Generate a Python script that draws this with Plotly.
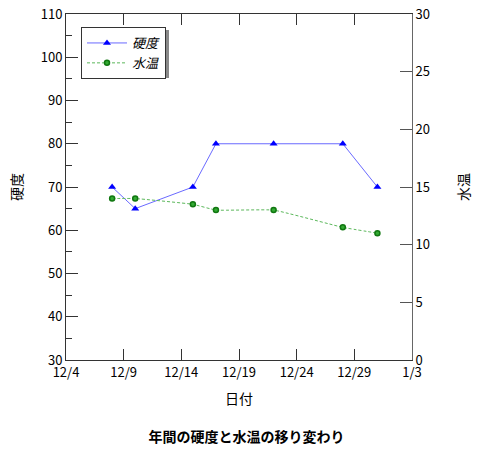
import plotly.graph_objects as go

# 測定日と値
dates = ["2023-12-08", "2023-12-10", "2023-12-15", "2023-12-17",
         "2023-12-22", "2023-12-28", "2023-12-31"]
hardness = [70, 65, 70, 80, 80, 80, 70]
water_temp = [14, 14, 13.5, 13, 13, 11.5, 11]

FONT = "Noto Sans CJK JP"

fig = go.Figure()

fig.add_trace(go.Scatter(
    x=dates, y=hardness, name="硬度", mode="lines+markers",
    line=dict(color="#6a6aff", width=1),
    marker=dict(symbol="triangle-up", size=7, color="#0000ff"),
))
fig.add_trace(go.Scatter(
    x=dates, y=water_temp, name="水温", mode="lines+markers", yaxis="y2",
    line=dict(color="#5cb85c", width=1, dash="3px,2px", shape="spline", smoothing=0.3),
    marker=dict(symbol="circle", size=5, color="#33aa33",
                line=dict(color="#117711", width=1.5)),
))

# 凡例の影
fig.add_shape(type="rect", xref="paper", yref="paper",
              x0=(84 - 66) / 346, x1=(169 - 66) / 346,
              y0=(360 - 78) / 346, y1=(360 - 30) / 346,
              fillcolor="#888888", line_width=0, layer="above")

fig.update_layout(
    width=493, height=471,
    margin=dict(l=66, r=81, t=14, b=111),
    paper_bgcolor="white", plot_bgcolor="white",
    font=dict(family=FONT, size=13, color="black"),
    showlegend=True,
    legend=dict(x=(81 - 66) / 346, y=(360 - 27) / 346, xanchor="left", yanchor="top",
                bgcolor="white", bordercolor="#333333", borderwidth=1,
                font=dict(family=FONT, size=13, style="italic"),
                tracegroupgap=0, itemwidth=40),
    title=dict(text="<b>年間の硬度と水温の移り変わり</b>", x=0.5, xanchor="center",
               yref="container", y=1 - 437 / 471, yanchor="middle",
               font=dict(family=FONT, size=14)),
    xaxis=dict(
        type="date", range=["2023-12-04", "2024-01-03"],
        tick0="2023-12-04", dtick=5 * 86400000, tickformat="%-m/%-d",
        ticks="inside", ticklen=11, tickcolor="#333333", ticklabeloverflow="allow",
        showline=True, linecolor="#333333", linewidth=1, mirror="ticks",
        showgrid=False, zeroline=False, automargin=False,
        title=dict(text="日付", standoff=14, font=dict(size=14)),
    ),
    yaxis=dict(
        range=[30, 110], dtick=10,
        ticks="inside", ticklen=12, tickcolor="#333333", ticklabeloverflow="allow",
        minor=dict(dtick=5, ticks="inside", ticklen=6, tickcolor="#333333"),
        showline=True, linecolor="#333333", linewidth=1,
        showgrid=False, zeroline=False, automargin=False,
        title=dict(text="硬度", standoff=14, font=dict(size=14)),
    ),
    yaxis2=dict(
        range=[0, 30], dtick=5, overlaying="y", side="right",
        ticks="inside", ticklen=12, tickcolor="#555555", ticklabeloverflow="allow",
        showline=True, linecolor="#666666", linewidth=1,
        showgrid=False, zeroline=False, automargin=False,
        title=dict(text="水温", standoff=30, font=dict(size=14)),
    ),
)

# body の余白をなくして図を左上に詰める
fig.write_html("out.html", config={"displayModeBar": False},
               post_script="document.body.style.margin = '0';")
